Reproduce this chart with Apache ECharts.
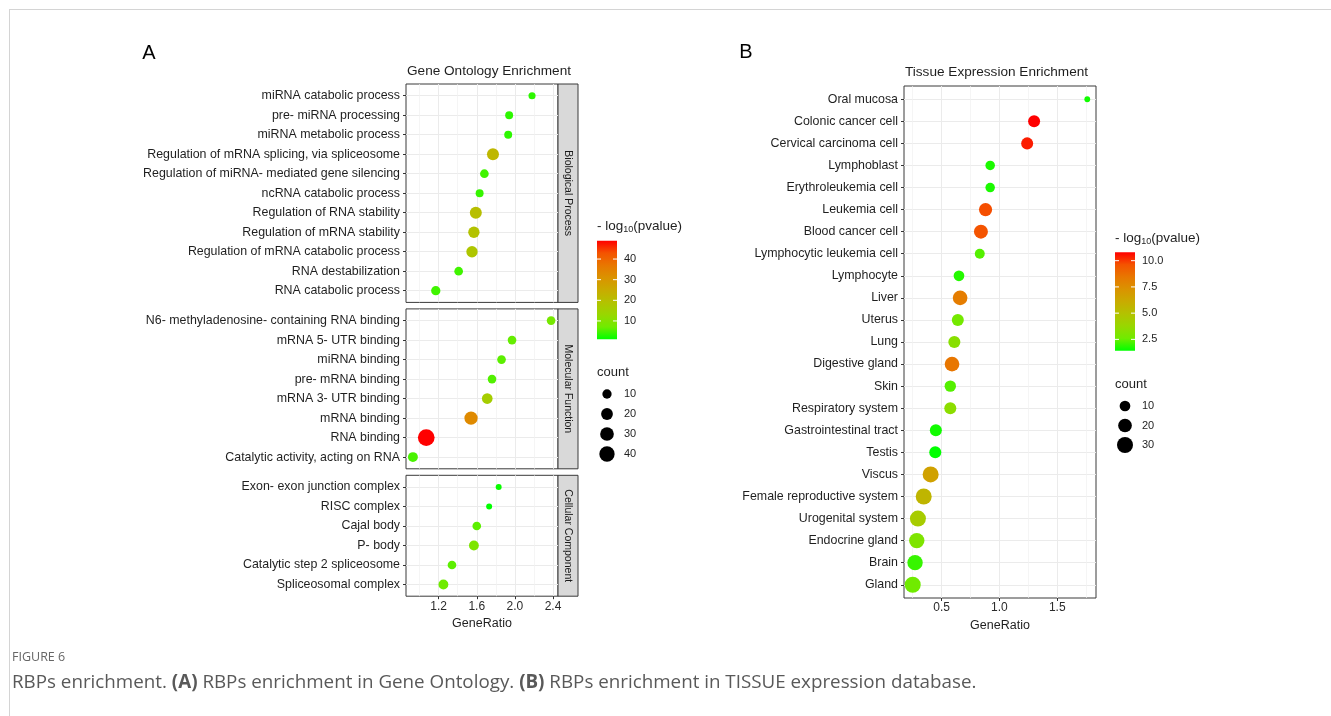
<!DOCTYPE html>
<html>
<head>
<meta charset="utf-8">
<script src="https://cdn.jsdelivr.net/npm/echarts@6/dist/echarts.min.js"></script>
<style>
  html, body { margin: 0; padding: 0; background: #fff; width: 1331px; height: 716px; overflow: hidden; }
  #frame { position: absolute; left: 9px; top: 9px; width: 1400px; height: 800px; border: 1px solid #d4d4d4; box-sizing: border-box; }
  #chart { position: absolute; left: 0; top: 0; width: 1331px; height: 716px; }
  #fig { position: absolute; left: 12px; top: 648px; font-family: "Open Sans", sans-serif; font-size: 12.5px; color: #666; line-height: 18px; }
  #cap { position: absolute; left: 12px; top: 668px; font-family: "Open Sans", sans-serif; font-size: 18.8px; color: #595959; white-space: nowrap; line-height: 26px; }
</style>
</head>
<body>
<div id="frame"></div>
<div id="chart"></div>
<div id="fig">FIGURE 6</div>
<div id="cap">RBPs enrichment. <b>(A)</b> RBPs enrichment in Gene Ontology. <b>(B)</b> RBPs enrichment in TISSUE expression database.</div>
<script>
const FONT = '"Liberation Sans", Arial, sans-serif';
const INK = "#1f1f1f";

// Gene Ontology, top to bottom inside each facet
const bpTerms = ["miRNA catabolic process", "pre- miRNA processing", "miRNA metabolic process",
  "Regulation of mRNA splicing, via spliceosome", "Regulation of miRNA- mediated gene silencing",
  "ncRNA catabolic process", "Regulation of RNA stability", "Regulation of mRNA stability",
  "Regulation of mRNA catabolic process", "RNA destabilization", "RNA catabolic process"];
const bpRatio = [2.18, 1.94, 1.93, 1.77, 1.68, 1.63, 1.59, 1.57, 1.55, 1.41, 1.17];
const bpCount = [4, 6, 6, 21, 8, 6, 21, 18, 18, 8, 10];
const bpLogP = [3.5, 3.5, 3.5, 22, 4.5, 4, 20, 19, 18, 4.5, 4.5];

const mfTerms = ["N6- methyladenosine- containing RNA binding", "mRNA 5- UTR binding", "miRNA binding",
  "pre- mRNA binding", "mRNA 3- UTR binding", "mRNA binding", "RNA binding", "Catalytic activity, acting on RNA"];
const mfRatio = [2.38, 1.97, 1.86, 1.76, 1.71, 1.54, 1.07, 0.93];
const mfCount = [8, 8, 8, 8, 15, 28, 50, 12];
const mfLogP = [8, 6.5, 6, 5.5, 16, 33, 48.9, 5];

const ccTerms = ["Exon- exon junction complex", "RISC complex", "Cajal body", "P- body",
  "Catalytic step 2 spliceosome", "Spliceosomal complex"];
const ccRatio = [1.83, 1.73, 1.60, 1.57, 1.34, 1.25];
const ccCount = [2, 2, 8, 12, 8, 12];
const ccLogP = [1.6, 1.1, 6, 9, 6, 7];

const goTicks = [1.2, 1.6, 2.0, 2.4];
const goMinor = [1.0, 1.4, 1.8, 2.2];
const goColorTicks = [10, 20, 30, 40];
const goCountBreaks = [10, 20, 30, 40];

// Tissue expression, top to bottom
const tissueTerms = ["Oral mucosa", "Colonic cancer cell", "Cervical carcinoma cell", "Lymphoblast",
  "Erythroleukemia cell", "Leukemia cell", "Blood cancer cell", "Lymphocytic leukemia cell", "Lymphocyte",
  "Liver", "Uterus", "Lung", "Digestive gland", "Skin", "Respiratory system", "Gastrointestinal tract",
  "Testis", "Viscus", "Female reproductive system", "Urogenital system", "Endocrine gland", "Brain", "Gland"];
const tissueRatio = [1.76, 1.30, 1.24, 0.92, 0.92, 0.88, 0.84, 0.83, 0.65, 0.66, 0.64, 0.61, 0.59, 0.575,
  0.575, 0.45, 0.445, 0.405, 0.345, 0.295, 0.285, 0.27, 0.25];
const tissueCount = [1, 14, 14, 7, 7, 18, 21, 8, 10, 24, 14, 14, 24, 12, 14, 14, 14, 30, 30, 30, 27, 27, 30];
const tissueLogP = [1.6, 10.8, 10.4, 1.7, 1.7, 9.7, 9.6, 2.3, 1.8, 8.2, 2.7, 3.3, 8.5, 2.3, 3.4, 1.6, 1.42,
  6.6, 5.6, 4.4, 3.0, 2.0, 2.6];

const tissueTicks = [0.5, 1.0, 1.5];
const tissueMinor = [0.25, 0.75, 1.25, 1.75];
const tissueColorTicks = [2.5, 5.0, 7.5, 10.0];
const tissueColorLabels = ["2.5", "5.0", "7.5", "10.0"];
const tissueCountBreaks = [10, 20, 30];

// green -> red, interpolated in Lab like ggplot
const ramp = ["#00ff00", "#70eb00", "#98d700", "#b3c200", "#c9ab00", "#da9300", "#e87700", "#f45300", "#ff0000"];

const sizeA = c => 3.3 + 1.9 * Math.sqrt(c);
const sizeB = c => 3.5 + 2.28 * Math.sqrt(c);

function expand(arrs) {
  const all = [].concat(...arrs);
  const lo = Math.min(...all), hi = Math.max(...all);
  const pad = (hi - lo) * 0.05;
  return [lo - pad, hi + pad];
}

const goRange = expand([bpRatio, mfRatio, ccRatio]);
const tissueRange = expand([tissueRatio]);
const goP = [].concat(bpLogP, mfLogP, ccLogP);
const goPMin = Math.min(...goP), goPMax = Math.max(...goP);
const tPMin = Math.min(...tissueLogP), tPMax = Math.max(...tissueLogP);

const gridLine = { color: "#ebebeb", width: 1 };
const minorLine = { color: "#f0f0f0", width: 0.7 };

const grids = [], xAxes = [], yAxes = [], series = [], graphic = [];

function addPanel(p) {
  const g = grids.length;
  const n = p.terms.length;
  grids.push({ left: p.left, top: p.top, width: p.width, height: p.height, show: true,
    borderColor: "#3a3a3a", borderWidth: 1, backgroundColor: "#fff" });
  xAxes.push({
    gridIndex: g, type: "value", min: p.range[0], max: p.range[1], position: "bottom",
    axisLine: { show: false, onZero: false },
    axisTick: { show: p.showX, length: 3, lineStyle: { color: "#333" }, customValues: p.ticks },
    axisLabel: { show: p.showX, customValues: p.ticks, formatter: v => v.toFixed(1),
      color: "#2b2b2b", fontFamily: FONT, fontSize: 12, margin: 4 },
    splitLine: { show: true, lineStyle: gridLine },
    name: p.showX ? "GeneRatio" : "", nameLocation: "middle", nameGap: 21,
    nameTextStyle: { color: INK, fontFamily: FONT, fontSize: 12.5 }
  });
  xAxes.push({
    gridIndex: g, type: "value", min: p.range[0], max: p.range[1], position: "top",
    axisLine: { show: false, onZero: false }, axisLabel: { show: false },
    axisTick: { show: false, customValues: p.minor },
    splitLine: { show: true, lineStyle: minorLine }
  });
  const idx = p.terms.map((_, i) => i);
  yAxes.push({
    gridIndex: g, type: "value", min: -0.6, max: n - 0.4,
    axisLine: { show: false, onZero: false },
    axisTick: { show: true, length: 3, lineStyle: { color: "#333" }, customValues: idx },
    axisLabel: { customValues: idx, formatter: v => p.terms[n - 1 - Math.round(v)],
      color: INK, fontFamily: FONT, fontSize: 12.4, margin: 6 },
    splitLine: { show: true, lineStyle: gridLine }
  });
  series.push({
    type: "scatter", xAxisIndex: 2 * g, yAxisIndex: g,
    data: p.terms.map((t, i) => [p.ratio[i], n - 1 - i, p.logp[i], p.count[i], t]),
    symbolSize: v => p.size(v[3]),
    itemStyle: { opacity: 1 },
    silent: true
  });
  if (p.strip) {
    graphic.push({ type: "rect", shape: { x: p.left + p.width, y: p.top, width: 20, height: p.height },
      style: { fill: "#d9d9d9", stroke: "#3a3a3a", lineWidth: 1 } });
    graphic.push({ type: "text", x: p.left + p.width + 10, y: p.top + p.height / 2, rotation: -Math.PI / 2,
      style: { text: p.strip, font: "10.5px " + FONT, fill: "#1a1a1a", textAlign: "center", textVerticalAlign: "middle" } });
  }
}

// Panel A: facets share a row height
const unit = 19.5, gap = 6.5;
let facetTop = 84;
[[bpTerms, bpRatio, bpCount, bpLogP, "Biological Process"],
 [mfTerms, mfRatio, mfCount, mfLogP, "Molecular Function"],
 [ccTerms, ccRatio, ccCount, ccLogP, "Cellular Component"]].forEach((f, k) => {
  const h = (f[0].length + 0.2) * unit;
  addPanel({ terms: f[0], ratio: f[1], count: f[2], logp: f[3], strip: f[4],
    left: 406, top: facetTop, width: 152, height: h, range: goRange,
    ticks: goTicks, minor: goMinor, showX: k === 2, size: sizeA });
  facetTop += h + gap;
});

// Panel B
addPanel({ terms: tissueTerms, ratio: tissueRatio, count: tissueCount, logp: tissueLogP,
  left: 904, top: 86, width: 192, height: 512, range: tissueRange,
  ticks: tissueTicks, minor: tissueMinor, showX: true, size: sizeB });

function addLegend(L) {
  graphic.push({ type: "text", x: L.x, y: L.titleY,
    style: { text: "{a|- log}{s|10}{a|(pvalue)}", textVerticalAlign: "middle", fill: INK,
      rich: { a: { fontFamily: FONT, fontSize: 13.5, lineHeight: 16, fill: INK },
              s: { fontFamily: FONT, fontSize: 9, lineHeight: 16, verticalAlign: "bottom", fill: INK } } } });
  const stops = ramp.map((c, i) => ({ offset: i / (ramp.length - 1), color: c }));
  graphic.push({ type: "rect", shape: { x: L.x, y: L.barTop, width: 20, height: L.barH },
    style: { fill: new echarts.graphic.LinearGradient(0, 1, 0, 0, stops) } });
  L.ticks.forEach((v, i) => {
    const y = L.barTop + L.barH - (v - L.min) / (L.max - L.min) * L.barH;
    graphic.push({ type: "line", shape: { x1: L.x, y1: y, x2: L.x + 4, y2: y }, style: { stroke: "#fff", lineWidth: 1 } });
    graphic.push({ type: "line", shape: { x1: L.x + 16, y1: y, x2: L.x + 20, y2: y }, style: { stroke: "#fff", lineWidth: 1 } });
    graphic.push({ type: "text", x: L.x + 27, y: y,
      style: { text: L.labels[i], font: "11px " + FONT, fill: INK, textVerticalAlign: "middle" } });
  });
  graphic.push({ type: "text", x: L.x, y: L.countY,
    style: { text: "count", font: "13px " + FONT, fill: INK, textVerticalAlign: "middle" } });
  L.breaks.forEach((c, i) => {
    const y = L.countY + 22 + i * L.step;
    graphic.push({ type: "circle", shape: { cx: L.x + 10, cy: y, r: L.size(c) / 2 }, style: { fill: "#000" } });
    graphic.push({ type: "text", x: L.x + 27, y: y,
      style: { text: String(c), font: "11px " + FONT, fill: INK, textVerticalAlign: "middle" } });
  });
}

addLegend({ x: 597, titleY: 226, barTop: 240.7, barH: 98.6, min: goPMin, max: goPMax,
  ticks: goColorTicks, labels: goColorTicks.map(String), countY: 372, breaks: goCountBreaks, step: 20, size: sizeA });
addLegend({ x: 1115, titleY: 238, barTop: 252.3, barH: 98.4, min: tPMin, max: tPMax,
  ticks: tissueColorTicks, labels: tissueColorLabels, countY: 384, breaks: tissueCountBreaks, step: 19.5, size: sizeB });

graphic.push({ type: "text", x: 149, y: 53, style: { text: "A", font: "20px " + FONT, fill: "#000", textAlign: "center", textVerticalAlign: "middle" } });
graphic.push({ type: "text", x: 746, y: 52, style: { text: "B", font: "20px " + FONT, fill: "#000", textAlign: "center", textVerticalAlign: "middle" } });
graphic.push({ type: "text", x: 407, y: 71, style: { text: "Gene Ontology Enrichment", font: "13.6px " + FONT, fill: INK, textVerticalAlign: "middle" } });
graphic.push({ type: "text", x: 905, y: 72, style: { text: "Tissue Expression Enrichment", font: "13.6px " + FONT, fill: INK, textVerticalAlign: "middle" } });

const chart = echarts.init(document.getElementById("chart"), null, { renderer: "canvas" });
chart.setOption({
  animation: false,
  backgroundColor: "transparent",
  grid: grids,
  xAxis: xAxes,
  yAxis: yAxes,
  series: series,
  visualMap: [
    { type: "continuous", show: false, seriesIndex: [0, 1, 2], dimension: 2, min: goPMin, max: goPMax, inRange: { color: ramp } },
    { type: "continuous", show: false, seriesIndex: [3], dimension: 2, min: tPMin, max: tPMax, inRange: { color: ramp } }
  ],
  graphic: graphic
});
</script>
</body>
</html>
